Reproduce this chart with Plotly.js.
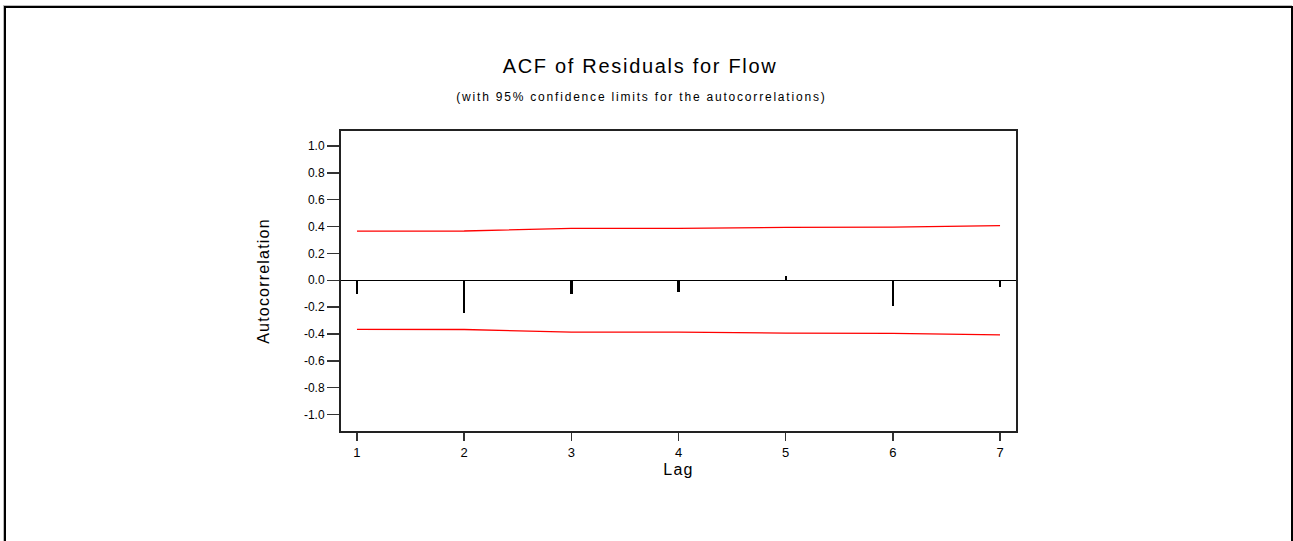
<!DOCTYPE html>
<html>
<head>
<meta charset="utf-8">
<script src="https://cdn.plot.ly/plotly-3.0.1.min.js"></script>
<style>
  html, body { margin: 0; padding: 0; background: #fff; }
  #frame { position: absolute; left: 4px; top: 6px; width: 1285px; height: 600px; border: 2px solid #000; box-shadow: -1px -1px 0 #bbb; }
  #chart { position: absolute; left: 0; top: 0; width: 1293px; height: 541px; }
  #chart .gtitle { letter-spacing: 1.7px; }
  #chart .annotation-text { letter-spacing: 1.8px; }
  #chart .g-xtitle text, #chart .g-ytitle text { letter-spacing: 1.2px; }
</style>
</head>
<body>
<div id="frame"></div>
<div id="chart"></div>
<script>
// Data
const lags = [1, 2, 3, 4, 5, 6, 7];
const acf = [-0.105, -0.245, -0.105, -0.085, 0.03, -0.19, -0.05];
const upperLimit = [0.366, 0.367, 0.386, 0.387, 0.394, 0.396, 0.407];
const lowerLimit = [-0.366, -0.367, -0.386, -0.387, -0.394, -0.396, -0.407];
const yTickVals = [-1.0, -0.8, -0.6, -0.4, -0.2, 0.0, 0.2, 0.4, 0.6, 0.8, 1.0];
const yTickText = ['-1.0', '-0.8', '-0.6', '-0.4', '-0.2', '0.0', '0.2', '0.4', '0.6', '0.8', '1.0'];
const titleText = 'ACF of Residuals for Flow';
const subtitleText = '(with 95% confidence limits for the autocorrelations)';

const FONT = 'Liberation Sans, Arial, sans-serif';

const traces = [
  {
    type: 'bar', x: lags, y: acf, width: 0.022,
    marker: { color: '#000', line: { width: 0 } },
    hoverinfo: 'x+y', showlegend: false
  },
  {
    type: 'scatter', mode: 'lines', x: lags, y: upperLimit,
    line: { color: '#ff0000', width: 1.3 }, showlegend: false
  },
  {
    type: 'scatter', mode: 'lines', x: lags, y: lowerLimit,
    line: { color: '#ff0000', width: 1.3 }, showlegend: false
  }
];

const layout = {
  width: 1293, height: 541,
  paper_bgcolor: 'rgba(0,0,0,0)', plot_bgcolor: '#fff',
  margin: { l: 341, r: 277, t: 131, b: 110, pad: 0 },
  font: { family: FONT, color: '#000', size: 12 },
  title: {
    text: titleText,
    font: { family: FONT, size: 20, color: '#000' },
    x: 0.495, xref: 'container', xanchor: 'center',
    y: 0.878, yref: 'container', yanchor: 'middle'
  },
  annotations: [{
    text: subtitleText, showarrow: false,
    xref: 'paper', yref: 'paper', x: 0.4455, y: 1.113,
    xanchor: 'center', yanchor: 'middle',
    font: { family: FONT, size: 12, color: '#000' }
  }],
  xaxis: {
    range: [0.851, 7.149], tickvals: lags, ticktext: lags.map(String),
    showgrid: false, zeroline: false,
    showline: true, linecolor: '#222', linewidth: 2, mirror: true,
    ticks: 'outside', ticklen: 8, tickwidth: 1.5, tickcolor: '#333',
    tickfont: { family: FONT, size: 13, color: '#000' },
    title: { text: 'Lag', font: { family: FONT, size: 16, color: '#000' }, standoff: 5 }
  },
  yaxis: {
    range: [-1.123, 1.112], tickvals: yTickVals, ticktext: yTickText,
    showgrid: false, zeroline: true, zerolinecolor: '#000', zerolinewidth: 1.5,
    showline: true, linecolor: '#222', linewidth: 2, mirror: true,
    ticks: 'outside', ticklen: 12, tickwidth: 1.5, tickcolor: '#333',
    tickfont: { family: FONT, size: 12, color: '#000' },
    title: { text: 'Autocorrelation', font: { family: FONT, size: 16, color: '#000' }, standoff: 30 }
  },
  bargap: 0
};

Plotly.newPlot('chart', traces, layout, { displayModeBar: false, staticPlot: true });
</script>
</body>
</html>
